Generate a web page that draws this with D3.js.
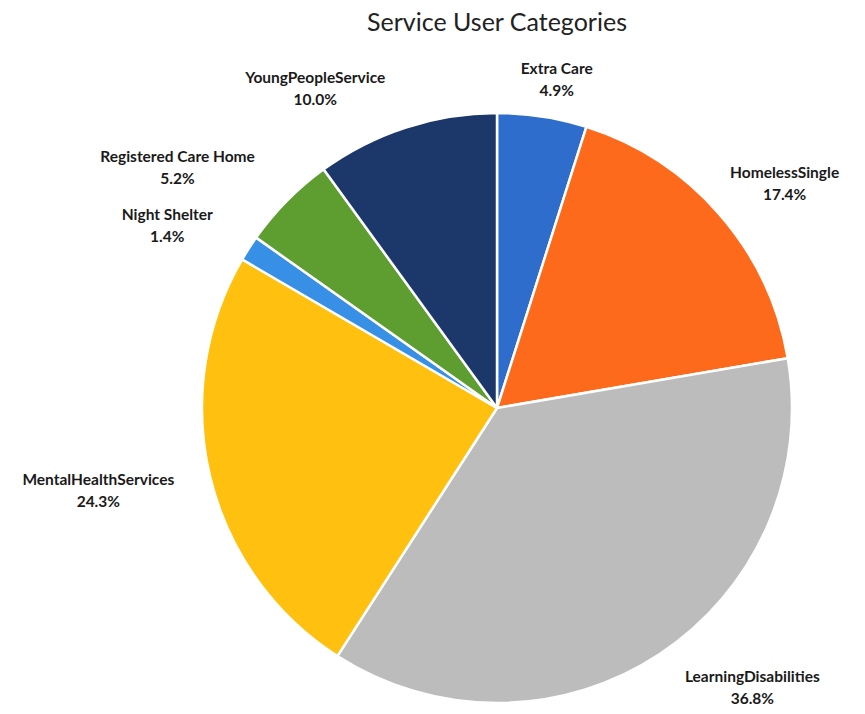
<!DOCTYPE html>
<html><head><meta charset="utf-8">
<script src="https://cdn.jsdelivr.net/npm/d3@7"></script>
<style>body{margin:0;background:#fff}svg{display:block}</style>
</head><body>
<svg id="c" width="865" height="714"></svg>
<script>
const categories = ["Extra Care","HomelessSingle","LearningDisabilities","MentalHealthServices","Night Shelter","Registered Care Home","YoungPeopleService"];
const values = [4.9, 17.4, 36.8, 24.3, 1.4, 5.2, 10.0];
const colors = ["#2e6dcc","#fd6a1c","#bcbcbc","#ffc010","#3790e6","#5e9d2f","#1c376a"];
// label placement: [distance from centre, angle in degrees clockwise from top]
const labelPlace = [[334,10.3],[365,52],[378,137.5],[407,258.4],[377,299],[400,307],[368,330.4]];

const svg = d3.select("#c");
const cx = 497, cy = 408, R = 295;
svg.append("text").attr("x", 497).attr("y", 31).attr("text-anchor","middle")
  .attr("font-family","Lato, 'Open Sans', sans-serif").attr("font-size", 25).attr("fill","#222")
  .text("Service User Categories");

const pie = d3.pie().sort(null).value(d => d)(values);
const arc = d3.arc().innerRadius(0).outerRadius(R);
const g = svg.append("g").attr("transform", `translate(${cx},${cy})`);
g.selectAll("path").data(pie).join("path")
  .attr("d", arc).attr("fill", (d,i) => colors[i])
  .attr("stroke","#fff").attr("stroke-width",2.5).attr("stroke-linejoin","round");

const lab = g.selectAll("g.lab").data(pie).join("g").attr("class","lab")
  .attr("transform", (d,i) => {
    const [r,a] = labelPlace[i]; const t = a*Math.PI/180;
    return `translate(${r*Math.sin(t)},${-r*Math.cos(t)})`;
  });
lab.append("text").attr("text-anchor","middle").attr("y",-5)
  .attr("font-family","Lato, 'Open Sans', sans-serif").attr("font-weight","bold").attr("font-size",15.5).attr("fill","#1a1a1a")
  .text((d,i) => categories[i]);
lab.append("text").attr("text-anchor","middle").attr("y",17)
  .attr("font-family","Lato, 'Open Sans', sans-serif").attr("font-weight","bold").attr("font-size",15.5).attr("fill","#1a1a1a")
  .text((d,i) => values[i].toFixed(1) + "%");
</script>
</body></html>
